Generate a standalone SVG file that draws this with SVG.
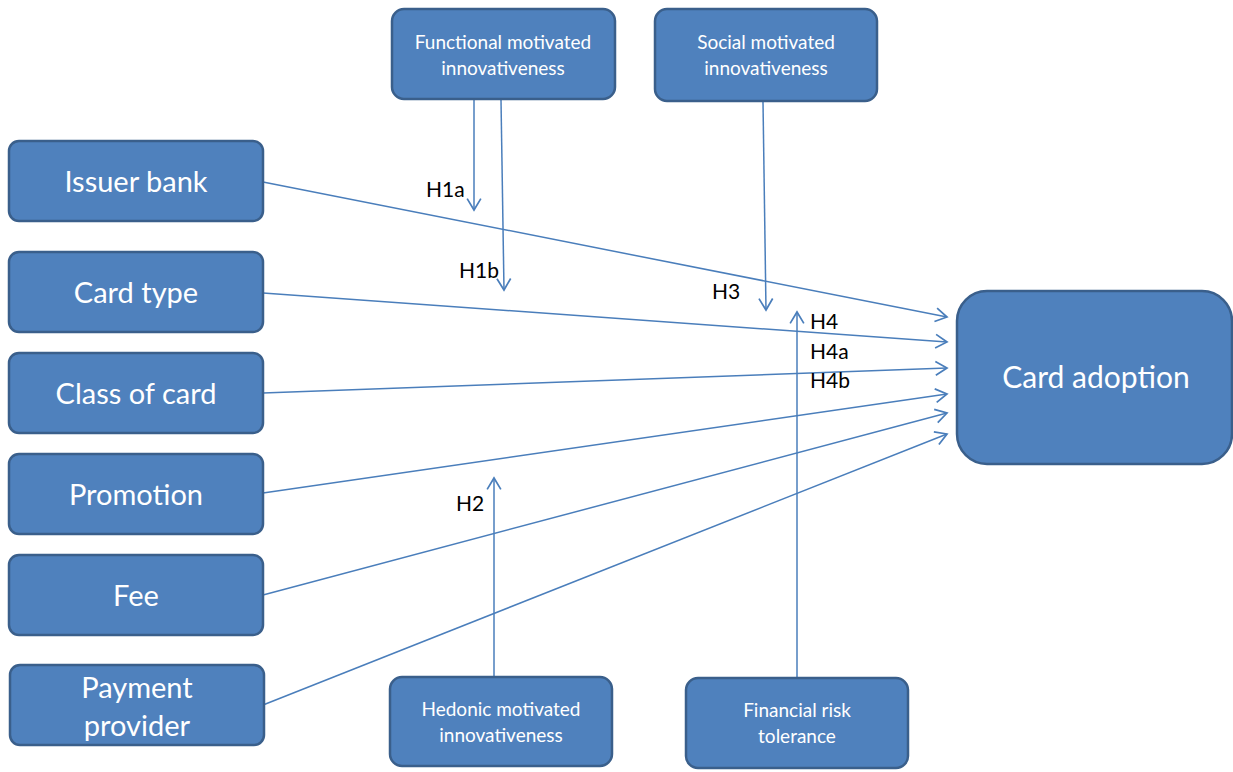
<svg xmlns="http://www.w3.org/2000/svg" width="1233" height="772" viewBox="0 0 1233 772">
<style>
.box{fill:#4F81BD;stroke:#3A5F8B;stroke-width:2.5}
.big{font-family:Lato,"Open Sans","Liberation Sans",sans-serif;font-size:29px;fill:#fff;text-anchor:middle}
.small{font-family:Lato,"Open Sans","Liberation Sans",sans-serif;font-size:19px;fill:#fff;text-anchor:middle}
.lbl{font-family:Lato,"Open Sans","Liberation Sans",sans-serif;font-size:21px;fill:#000}
.c{stroke:#4A7EBB;stroke-width:1.5;fill:none;marker-end:url(#ah)}
</style>
<defs>
<marker id="ah" markerUnits="userSpaceOnUse" markerWidth="16" markerHeight="16" refX="11" refY="7" orient="auto" viewBox="0 0 14 14">
<path d="M1,1 L11,7 L1,13" fill="none" stroke="#4A7EBB" stroke-width="1.5"/>
</marker>
</defs>
<rect width="1233" height="772" fill="#fff"/>
<g id="connectors">
<line class="c" x1="263" y1="182" x2="947" y2="317"/>
<line class="c" x1="263" y1="293" x2="947" y2="342"/>
<line class="c" x1="263" y1="393" x2="947" y2="368"/>
<line class="c" x1="263" y1="493" x2="947" y2="394"/>
<line class="c" x1="263" y1="595" x2="947" y2="413"/>
<line class="c" x1="263" y1="705" x2="947" y2="434"/>
<line class="c" x1="474" y1="100" x2="474" y2="210"/>
<line class="c" x1="501" y1="100" x2="504" y2="290"/>
<line class="c" x1="763" y1="102" x2="766" y2="310"/>
<line class="c" x1="797" y1="677" x2="797" y2="312"/>
<line class="c" x1="494" y1="676" x2="494" y2="478"/>
</g>
<g id="labels">
<text class="lbl" x="426" y="197">H1a</text>
<text class="lbl" x="459" y="278">H1b</text>
<text class="lbl" x="712" y="299">H3</text>
<text class="lbl" x="810" y="329">H4</text>
<text class="lbl" x="810" y="359">H4a</text>
<text class="lbl" x="810" y="388">H4b</text>
<text class="lbl" x="456" y="511">H2</text>
</g>
<g id="issuer-bank"><rect class="box" x="9" y="141" width="254" height="80" rx="10"/><text class="big" x="136" y="192">Issuer bank</text></g>
<g id="card-type"><rect class="box" x="9" y="252" width="254" height="80" rx="10"/><text class="big" x="136" y="303">Card type</text></g>
<g id="class-of-card"><rect class="box" x="9" y="353" width="254" height="80" rx="10"/><text class="big" x="136" y="404">Class of card</text></g>
<g id="promotion"><rect class="box" x="9" y="454" width="254" height="80" rx="10"/><text class="big" x="136" y="505">Promotion</text></g>
<g id="fee"><rect class="box" x="9" y="555" width="254" height="80" rx="10"/><text class="big" x="136" y="606">Fee</text></g>
<g id="payment-provider"><rect class="box" x="10" y="665" width="254" height="80" rx="10"/><text class="big" x="137" y="698">Payment</text><text class="big" x="137" y="736">provider</text></g>
<g id="functional"><rect class="box" x="392" y="9" width="223" height="90" rx="12"/><text class="small" x="503" y="49">Functional motivated</text><text class="small" x="503" y="75">innovativeness</text></g>
<g id="social"><rect class="box" x="655" y="9" width="222" height="92" rx="12"/><text class="small" x="766" y="49">Social motivated</text><text class="small" x="766" y="75">innovativeness</text></g>
<g id="hedonic"><rect class="box" x="390" y="677" width="222" height="89" rx="12"/><text class="small" x="501" y="716">Hedonic motivated</text><text class="small" x="501" y="742">innovativeness</text></g>
<g id="financial"><rect class="box" x="686" y="678" width="222" height="90" rx="12"/><text class="small" x="797" y="717">Financial risk</text><text class="small" x="797" y="743">tolerance</text></g>
<g id="card-adoption"><rect class="box" x="957" y="291" width="275" height="173" rx="30"/><text class="big" x="1096" y="388" style="font-size:30px">Card adoption</text></g>
</svg>
